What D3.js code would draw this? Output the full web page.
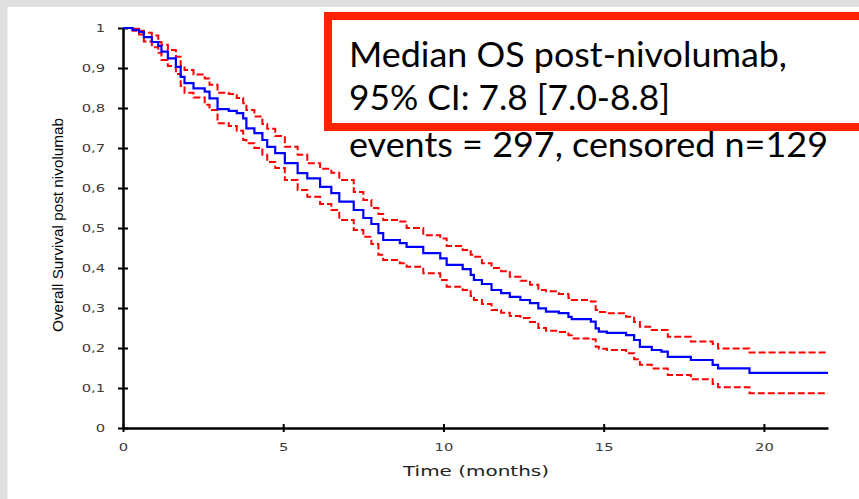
<!DOCTYPE html>
<html>
<head>
<meta charset="utf-8">
<script src="https://cdn.jsdelivr.net/npm/d3@7/dist/d3.min.js"></script>
<style>
  html, body { margin: 0; padding: 0; background: #e0e0e0; }
  svg { display: block; }
</style>
</head>
<body>
<svg id="chart" width="859" height="499"></svg>
<script>
// ---- data ----
const timeMonths = [0, 0.3, 0.5, 0.65, 0.9, 1.1, 1.2, 1.4, 1.65, 1.8, 1.92, 2.2, 2.55, 2.7, 2.95, 3.3, 3.55, 3.75, 3.85, 4.1, 4.35, 4.5, 4.75, 5.05, 5.45, 5.75, 6.15, 6.5, 6.75, 7.2, 7.5, 7.75, 7.97, 8.12, 8.64, 8.85, 9.37, 9.9, 10.1, 10.6, 10.85, 10.95, 11.2, 11.5, 11.8, 12.07, 12.4, 12.7, 12.96, 13.2, 13.6, 13.9, 14.0, 14.6, 14.75, 14.85, 15.1, 15.7, 15.95, 16.13, 16.5, 16.8, 17.0, 17.72, 18.4, 18.57, 19.55];
const osEstimate = [1, 0.995, 0.99, 0.977, 0.965, 0.955, 0.941, 0.924, 0.903, 0.878, 0.862, 0.849, 0.841, 0.824, 0.797, 0.793, 0.787, 0.774, 0.749, 0.737, 0.72, 0.703, 0.687, 0.662, 0.637, 0.624, 0.603, 0.587, 0.566, 0.545, 0.525, 0.51, 0.487, 0.47, 0.462, 0.453, 0.437, 0.424, 0.408, 0.397, 0.383, 0.37, 0.36, 0.345, 0.337, 0.328, 0.32, 0.312, 0.299, 0.291, 0.287, 0.278, 0.272, 0.266, 0.249, 0.241, 0.238, 0.232, 0.22, 0.203, 0.195, 0.191, 0.178, 0.17, 0.158, 0.149, 0.138];
const ciUpper = [1, 0.998, 0.993, 0.988, 0.981, 0.965, 0.958, 0.945, 0.928, 0.905, 0.895, 0.884, 0.874, 0.858, 0.838, 0.835, 0.825, 0.812, 0.795, 0.779, 0.76, 0.748, 0.73, 0.703, 0.683, 0.662, 0.648, 0.638, 0.62, 0.59, 0.57, 0.55, 0.535, 0.52, 0.516, 0.5, 0.482, 0.474, 0.455, 0.445, 0.433, 0.428, 0.412, 0.4, 0.392, 0.378, 0.368, 0.358, 0.345, 0.342, 0.335, 0.325, 0.32, 0.316, 0.295, 0.29, 0.287, 0.278, 0.265, 0.253, 0.245, 0.245, 0.228, 0.216, 0.21, 0.199, 0.189];
const ciLower = [1, 0.993, 0.984, 0.966, 0.952, 0.938, 0.92, 0.905, 0.885, 0.855, 0.838, 0.826, 0.808, 0.795, 0.762, 0.755, 0.743, 0.72, 0.712, 0.7, 0.683, 0.665, 0.65, 0.62, 0.595, 0.578, 0.56, 0.545, 0.52, 0.495, 0.478, 0.46, 0.433, 0.42, 0.412, 0.403, 0.387, 0.37, 0.353, 0.345, 0.33, 0.32, 0.31, 0.295, 0.288, 0.28, 0.275, 0.265, 0.25, 0.243, 0.24, 0.232, 0.224, 0.222, 0.203, 0.198, 0.195, 0.187, 0.172, 0.158, 0.149, 0.149, 0.1325, 0.122, 0.11, 0.102, 0.087];
const followUpEnd = 22;
const xTickValues = [0, 5, 10, 15, 20];
const yTickValues = [0, 0.1, 0.2, 0.3, 0.4, 0.5, 0.6, 0.7, 0.8, 0.9, 1];
const yTickLabels = ["0", "0,1", "0,2", "0,3", "0,4", "0,5", "0,6", "0,7", "0,8", "0,9", "1"];
const legendLines = ["Median OS post-nivolumab,", "95% CI: 7.8 [7.0-8.8]", "events = 297, censored n=129"];
const xTitle = "Time (months)";
const yTitle = "Overall Survival post nivolumab";

// ---- layout ----
const svg = d3.select("#chart");
svg.append("rect").attr("x", 0).attr("y", 0).attr("width", 859).attr("height", 499).attr("fill", "#e0e0e0");
svg.append("rect").attr("x", 7.5).attr("y", 7).attr("width", 860).attr("height", 500).attr("fill", "#ffffff");

const x = d3.scaleLinear().domain([0, followUpEnd]).range([123, 828]);
const y = d3.scaleLinear().domain([0, 1]).range([428, 28]);

function series(vals) {
  const pts = timeMonths.map((t, i) => ({ t: t, s: vals[i] }));
  pts.push({ t: followUpEnd, s: vals[vals.length - 1] });
  return pts;
}
const line = d3.line().x(d => x(d.t)).y(d => y(d.s)).curve(d3.curveStepAfter);

// stretch helper for tick text (reference text is horizontally stretched)
function stretch(sel, k) {
  sel.each(function () {
    const w = this.getComputedTextLength();
    d3.select(this).attr("textLength", w * k).attr("lengthAdjust", "spacingAndGlyphs");
  });
}

// axes
const gx = svg.append("g").attr("transform", `translate(0,${y(0)})`)
  .call(d3.axisBottom(x).tickValues(xTickValues).tickSizeOuter(0).tickSizeInner(4).tickPadding(14));
gx.select(".domain").attr("stroke", "#000").attr("stroke-width", 2.5);
gx.selectAll(".tick line").attr("y1", -4).attr("y2", 4).attr("stroke", "#000").attr("stroke-width", 2);
gx.selectAll(".tick text").attr("font-family", "DejaVu Sans, Verdana, sans-serif").attr("font-size", 10.5).attr("fill", "#3a3a3a").attr("dy", "0.35em").attr("y", 19).call(stretch, 1.4);

const gy = svg.append("g").attr("transform", `translate(${x(0)},0)`)
  .call(d3.axisLeft(y).tickValues(yTickValues).tickFormat((d, i) => yTickLabels[i]).tickSizeOuter(0).tickSizeInner(5).tickPadding(13));
gy.select(".domain").attr("stroke", "#000").attr("stroke-width", 2.5);
gy.selectAll(".tick line").attr("x1", -5).attr("x2", 5).attr("stroke", "#000").attr("stroke-width", 2);
gy.selectAll(".tick text").attr("font-family", "DejaVu Sans, Verdana, sans-serif").attr("font-size", 10.5).attr("fill", "#3a3a3a").attr("x", -18).call(stretch, 1.4);

// axis titles
svg.append("text").attr("x", 476).attr("y", 476).attr("text-anchor", "middle")
  .attr("font-family", "DejaVu Sans, Verdana, sans-serif").attr("font-size", 14).attr("fill", "#222")
  .attr("textLength", 146).attr("lengthAdjust", "spacingAndGlyphs").text(xTitle);
svg.append("text").attr("transform", "translate(63,225) rotate(-90)").attr("text-anchor", "middle")
  .attr("font-family", "Liberation Sans Narrow, Arial Narrow, sans-serif").attr("font-size", 15.5).attr("fill", "#000")
  .attr("textLength", 214).attr("lengthAdjust", "spacingAndGlyphs").text(yTitle);

// curves
svg.append("path").datum(series(ciUpper)).attr("d", line).attr("fill", "none")
  .attr("stroke", "#ff0000").attr("stroke-width", 2).attr("stroke-dasharray", "7,3");
svg.append("path").datum(series(ciLower)).attr("d", line).attr("fill", "none")
  .attr("stroke", "#ff0000").attr("stroke-width", 2).attr("stroke-dasharray", "7,3");
svg.append("path").datum(series(osEstimate)).attr("d", line).attr("fill", "none")
  .attr("stroke", "#0000ff").attr("stroke-width", 2.2);

// legend box
svg.append("rect").attr("x", 328).attr("y", 16).attr("width", 560).attr("height", 111)
  .attr("fill", "#ffffff").attr("stroke", "#ff2200").attr("stroke-width", 8);
const legendY = [67, 110, 157];
const legendW = [438, 321, 479];
legendLines.forEach((t, i) => {
  svg.append("text").attr("x", 349).attr("y", legendY[i])
    .attr("font-family", "Lato, Open Sans, sans-serif").attr("font-size", 35).attr("fill", "#000")
    .attr("textLength", legendW[i]).attr("lengthAdjust", "spacingAndGlyphs").text(t);
});
</script>
</body>
</html>
